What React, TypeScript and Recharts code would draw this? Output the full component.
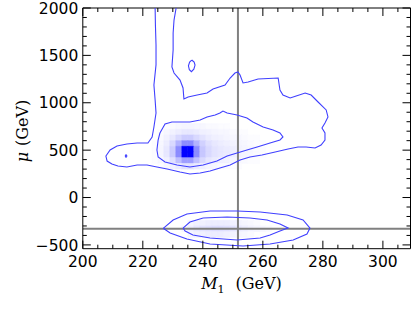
import React from 'react';
import { ComposedChart, XAxis, YAxis, Scatter, ReferenceLine, ReferenceArea, Label } from 'recharts';

// ---- axis ticks ----
const xTicks = [200, 205, 210, 215, 220, 225, 230, 235, 240, 245, 250, 255, 260, 265, 270, 275, 280, 285, 290, 295, 300, 305];
const xMajor = [200, 220, 240, 260, 280, 300];
const yTicks = [-500, -400, -300, -200, -100, 0, 100, 200, 300, 400, 500, 600, 700, 800, 900, 1000, 1100, 1200, 1300, 1400, 1500, 1600, 1700, 1800, 1900, 2000];
const yMajor = [-500, 0, 500, 1000, 1500, 2000];

// ---- reference (true) values ----
const trueM1 = 251.7;
const trueMu = -329;

// ---- 2D histogram (posterior density), bin centres ----
const heatCols = [224, 226, 228, 230, 232, 234, 236, 238, 240, 242, 244, 246, 248, 250, 252, 254, 256, 258, 260, 262];
const heatMu = [750, 690, 630, 570, 510, 450, 390, 330, -270, -330, -390];
const heat750 = [0, 0, 0.01, 0.02, 0.03, 0.04, 0.04, 0.03, 0.03, 0.02, 0.02, 0.01, 0.01, 0, 0, 0, 0, 0, 0, 0];
const heat690 = [0, 0.01, 0.03, 0.05, 0.07, 0.09, 0.09, 0.08, 0.06, 0.05, 0.04, 0.03, 0.03, 0.02, 0.01, 0.01, 0, 0, 0, 0];
const heat630 = [0, 0.02, 0.05, 0.09, 0.15, 0.2, 0.2, 0.15, 0.11, 0.08, 0.06, 0.05, 0.04, 0.03, 0.03, 0.02, 0.01, 0.01, 0, 0];
const heat570 = [0.01, 0.03, 0.07, 0.15, 0.3, 0.45, 0.45, 0.3, 0.18, 0.12, 0.09, 0.07, 0.06, 0.05, 0.04, 0.03, 0.02, 0.01, 0.01, 0];
const heat510 = [0.01, 0.04, 0.09, 0.2, 0.45, 1, 1, 0.45, 0.22, 0.15, 0.11, 0.09, 0.08, 0.07, 0.05, 0.04, 0.03, 0.02, 0.01, 0];
const heat450 = [0.01, 0.04, 0.09, 0.2, 0.45, 1, 1, 0.45, 0.22, 0.15, 0.11, 0.09, 0.08, 0.07, 0.05, 0.04, 0.03, 0.02, 0.01, 0];
const heat390 = [0.01, 0.03, 0.06, 0.12, 0.25, 0.38, 0.38, 0.25, 0.15, 0.1, 0.08, 0.06, 0.05, 0.04, 0.03, 0.02, 0.01, 0.01, 0, 0];
const heat330 = [0, 0.01, 0.03, 0.05, 0.08, 0.11, 0.11, 0.08, 0.06, 0.04, 0.03, 0.02, 0.02, 0.01, 0.01, 0, 0, 0, 0, 0];
const heatN270 = [0, 0, 0, 0, 0, 0, 0.03, 0.05, 0.06, 0.07, 0.07, 0.07, 0.07, 0.06, 0.05, 0.04, 0.03, 0.02, 0, 0];
const heatN330 = [0, 0, 0, 0, 0, 0.03, 0.06, 0.09, 0.11, 0.12, 0.13, 0.13, 0.12, 0.11, 0.09, 0.07, 0.05, 0.04, 0.03, 0.02];
const heatN390 = [0, 0, 0, 0, 0, 0, 0.03, 0.05, 0.06, 0.07, 0.07, 0.07, 0.06, 0.05, 0.04, 0.03, 0.02, 0, 0, 0];
const heatRows = [heat750, heat690, heat630, heat570, heat510, heat450, heat390, heat330, heatN270, heatN330, heatN390];

// ---- contours [M1, mu] ----
const outerUpper = [
  [224.1, 2000], [224.2, 1820], [224.4, 1610], [224.4, 1400], [223.7, 1187], [224.1, 1029], [224.4, 892], [223.7, 744],
  [223.1, 639], [221.7, 575], [218.1, 575], [214.7, 565], [211.4, 544], [209.1, 502], [207.7, 438], [208.1, 385],
  [209.7, 354], [211.7, 333], [214.7, 322], [218.1, 343], [221.4, 343], [224.7, 322], [228.1, 301], [232.4, 269],
  [235.7, 248], [239.1, 259], [242.4, 280], [245.7, 312], [249.1, 343], [252.4, 396], [255.7, 428], [259.7, 449],
  [264.1, 480], [268.4, 512], [271.7, 533], [274.4, 533], [277.4, 523], [279.4, 554], [280.7, 607], [280.7, 681],
  [279.7, 734], [280.7, 786], [281.7, 850], [281.1, 924], [278.4, 1008], [276.1, 1082], [274.1, 1103], [271.1, 1071],
  [269.1, 1050], [266.7, 1082], [265.7, 1135], [265.1, 1261], [258.4, 1251], [255.1, 1219], [253.4, 1209], [252.4, 1293],
  [251.7, 1325], [250.7, 1314], [249.1, 1261], [247.4, 1187], [243.4, 1145], [241.4, 1103], [238.1, 1082], [235.1, 1061],
  [233.7, 1040], [233.4, 1156], [232.4, 1240], [230.4, 1314], [229.7, 1377], [230.1, 1557], [230.1, 1736], [230.4, 1873],
  [231.1, 2000],
];
const innerUpper = [
  [225.7, 681], [227.4, 776], [229.7, 797], [232.4, 797], [235.7, 797], [239.1, 818], [241.4, 850], [244.1, 871],
  [245.7, 892], [246.7, 913], [248.1, 892], [251.4, 871], [254.7, 839], [256.7, 797], [260.1, 744], [263.4, 712],
  [265.7, 681], [266.7, 639], [265.7, 607], [262.4, 575], [258.1, 533], [254.7, 501], [251.4, 470], [248.1, 438],
  [244.7, 385], [240.1, 343], [235.7, 322], [231.4, 343], [227.4, 375], [225.1, 428], [224.7, 501], [225.1, 607],
  [225.7, 681],
];
const islandUpper = [
  [236.3, 1451], [237.1, 1430], [237.4, 1398], [237.0, 1355], [236.2, 1328], [235.5, 1350], [235.2, 1390], [235.6, 1430], [236.3, 1451],
];
const islandLeft = [
  [214.1, 438], [214.4, 452], [214.7, 438], [214.4, 424], [214.1, 438],
];
const outerLower = [
  [226.8, -325], [230.1, -237], [234.7, -174], [242.4, -142], [251.4, -142], [259.1, -153], [268.1, -185], [273.4, -237],
  [275.7, -322], [274.7, -385], [270.1, -448], [262.4, -491], [253.4, -512], [242.4, -491], [234.7, -438], [229.1, -374],
  [226.8, -325],
];
const innerLower = [
  [233.4, -322], [235.7, -258], [240.1, -216], [248.1, -206], [255.7, -216], [261.4, -237], [265.7, -279], [268.4, -322],
  [265.7, -353], [262.4, -395], [259.1, -427], [251.4, -448], [242.4, -427], [236.7, -395], [234.1, -353], [233.4, -322],
];
const contours = [outerUpper, innerUpper, islandUpper, islandLeft, outerLower, innerLower];

const toPts = (arr: number[][]) => arr.map(([x, y]) => ({ x, y }));

const fmt = (v: number) => (v < 0 ? '\u2212' + Math.abs(v) : String(v));
const heatColor = (v: number) => {
  const c = Math.round(255 * (1 - v));
  return `rgb(${c},${c},255)`;
};

const TICK_FONT = 'DejaVu Sans';
const LABEL_FONT = 'DejaVu Serif';

const BottomTick = (props: any) => {
  const { x, y, payload } = props;
  const v = payload.value;
  const major = xMajor.includes(v);
  return (
    <g>
      <line x1={x} x2={x} y1={y} y2={y - (major ? 8 : 4)} stroke="#000" strokeWidth={1} />
      {major && (
        <text x={x} y={y + 18.6} textAnchor="middle" fontFamily={TICK_FONT} fontSize={15.5} fill="#000">
          {fmt(v)}
        </text>
      )}
    </g>
  );
};
const TopTick = (props: any) => {
  const { x, y, payload } = props;
  const major = xMajor.includes(payload.value);
  return <line x1={x} x2={x} y1={y} y2={y + (major ? 8 : 4)} stroke="#000" strokeWidth={1} />;
};
const LeftTick = (props: any) => {
  const { x, y, payload } = props;
  const v = payload.value;
  const major = yMajor.includes(v);
  return (
    <g>
      <line x1={x} x2={x + (major ? 8 : 4)} y1={y} y2={y} stroke="#000" strokeWidth={1} />
      {major && (
        <text x={x - 4.5} y={y} dy="0.365em" textAnchor="end" fontFamily={TICK_FONT} fontSize={15.5} fill="#000">
          {fmt(v)}
        </text>
      )}
    </g>
  );
};
const RightTick = (props: any) => {
  const { x, y, payload } = props;
  const major = yMajor.includes(payload.value);
  return <line x1={x} x2={x - (major ? 8 : 4)} y1={y} y2={y} stroke="#000" strokeWidth={1} />;
};

const XLabel = (props: any) => {
  const vb = props.viewBox;
  const cx = vb.x + vb.width / 2;
  return (
    <text x={cx - 45.5} y={vb.y + 40.5} fontFamily={LABEL_FONT} fontSize={16} fill="#000">
      <tspan fontStyle="italic">M</tspan>
      <tspan fontSize={11} dy={3.5}>1</tspan>
      <tspan dy={-3.5} dx={11}>(GeV)</tspan>
    </text>
  );
};
const YLabel = (props: any) => {
  const vb = props.viewBox;
  const cy = vb.y + vb.height / 2;
  return (
    <text transform={`translate(27.5,${cy + 34}) rotate(-90)`} fontFamily={LABEL_FONT} fontSize={16} fill="#000">
      <tspan fontStyle="italic">μ</tspan>
      <tspan dx={6}>(GeV)</tspan>
    </text>
  );
};

const NoShape = () => <g />;

export default function App() {
  const cells: React.ReactNode[] = [];
  heatRows.forEach((row, ri) => {
    const mu = heatMu[ri];
    row.forEach((v, ci) => {
      if (v <= 0) return;
      const m = heatCols[ci];
      const col = heatColor(v);
      cells.push(
        <ReferenceArea
          key={`c${ri}-${ci}`}
          x1={m - 1}
          x2={m + 1}
          y1={mu - 30}
          y2={mu + 30}
          fill={col}
          fillOpacity={1}
          stroke={col}
          strokeWidth={0.6}
          ifOverflow="hidden"
        />
      );
    });
  });

  return (
    <div style={{ position: 'absolute', left: 0, top: 0, width: 416, height: 312, background: '#fff' }}>
      <ComposedChart width={416} height={312} margin={{ top: 3, right: 0.5, bottom: 33.3, left: 22.8 }}>
        <XAxis
          xAxisId={0}
          type="number"
          dataKey="x"
          domain={[200, 309.2]}
          allowDataOverflow
          ticks={xTicks}
          interval={0}
          height={30}
          tickSize={0}
          tickMargin={0}
          tickLine={false}
          axisLine={{ stroke: '#000', strokeWidth: 1 }}
          tick={<BottomTick />}
        >
          <Label content={<XLabel />} />
        </XAxis>
        <XAxis
          xAxisId="top"
          orientation="top"
          type="number"
          dataKey="x"
          domain={[200, 309.2]}
          allowDataOverflow
          ticks={xTicks}
          interval={0}
          height={5}
          tickSize={0}
          tickMargin={0}
          tickLine={false}
          axisLine={{ stroke: '#000', strokeWidth: 1 }}
          tick={<TopTick />}
        />
        <YAxis
          yAxisId={0}
          type="number"
          dataKey="y"
          domain={[-540, 2000]}
          allowDataOverflow
          ticks={yTicks}
          interval={0}
          width={60}
          tickSize={0}
          tickMargin={0}
          tickLine={false}
          axisLine={{ stroke: '#000', strokeWidth: 1 }}
          tick={<LeftTick />}
        >
          <Label content={<YLabel />} />
        </YAxis>
        <YAxis
          yAxisId="right"
          orientation="right"
          type="number"
          dataKey="y"
          domain={[-540, 2000]}
          allowDataOverflow
          ticks={yTicks}
          interval={0}
          width={5}
          tickSize={0}
          tickMargin={0}
          tickLine={false}
          axisLine={{ stroke: '#000', strokeWidth: 1 }}
          tick={<RightTick />}
        />
        {cells}
        {contours.map((c, i) => (
          <Scatter
            key={`k${i}`}
            data={toPts(c)}
            line={{ stroke: '#4040ff', strokeWidth: 1.1, fill: 'none' }}
            lineType="joint"
            shape={<NoShape />}
            isAnimationActive={false}
          />
        ))}
        <ReferenceLine x={trueM1} stroke="#808080" strokeWidth={2} ifOverflow="hidden" />
        <ReferenceLine y={trueMu} stroke="#808080" strokeWidth={2} ifOverflow="hidden" />
      </ComposedChart>
    </div>
  );
}
